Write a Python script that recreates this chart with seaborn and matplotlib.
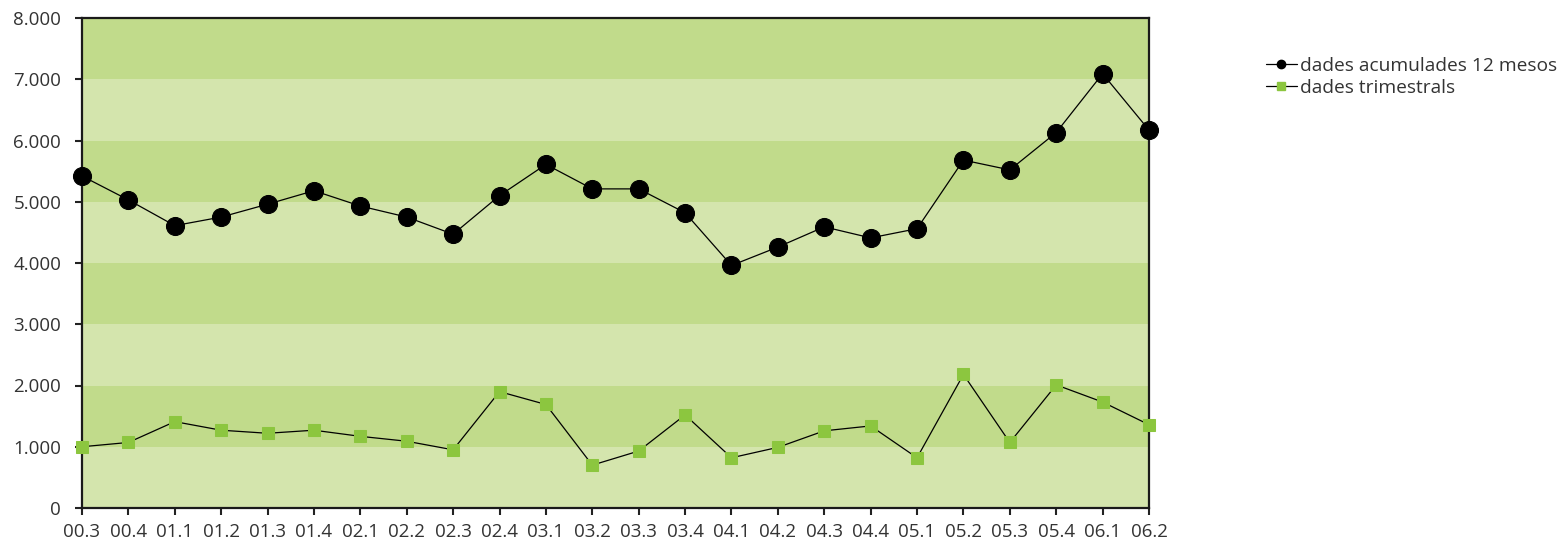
import numpy as np
import matplotlib as mpl
mpl.use('Agg')

import matplotlib.pyplot as plt
from matplotlib.lines import Line2D
from matplotlib.ticker import FuncFormatter
import seaborn as sns
import pandas as pd

# data
quarters = ["00.3", "00.4", "01.1", "01.2", "01.3", "01.4", "02.1", "02.2",
            "02.3", "02.4", "03.1", "03.2", "03.3", "03.4", "04.1", "04.2",
            "04.3", "04.4", "05.1", "05.2", "05.3", "05.4", "06.1", "06.2"]
acumulades = [5420, 5030, 4610, 4750, 4960, 5180, 4930, 4750,
              4470, 5100, 5610, 5210, 5210, 4820, 3960, 4260,
              4590, 4410, 4560, 5680, 5520, 6130, 7090, 6170]
trimestrals = [1000, 1070, 1410, 1270, 1220, 1270, 1170, 1090,
               950, 1900, 1690, 700, 930, 1520, 820, 990,
               1260, 1340, 820, 2180, 1070, 2010, 1730, 1360]
series_names = ["dades acumulades 12 mesos", "dades trimestrals"]

#global params
W, H = 1563, 541
dark_band = "#c1db8b"
light_band = "#d4e5ad"
green = "#8cc63f"
text_col = "#333333"
tick_size = 13.5
legend_size = 13.8


def main():
    sns.set_style("white")
    plt.rcParams['font.family'] = ['Open Sans', 'DejaVu Sans']

    df = pd.DataFrame({"Trimestre": quarters,
                       "acum": acumulades,
                       "trim": trimestrals})
    df["pos"] = np.arange(len(df))

    fig = plt.figure(figsize=(W / 100, H / 100), dpi=100)
    ax = fig.add_axes([82 / W, 1 - 508 / H, (1149 - 82) / W, (508 - 18) / H])

    # alternating horizontal bands, darker on top of each 2000 block
    for lo in range(0, 8000, 1000):
        col = dark_band if (lo // 1000) % 2 == 1 else light_band
        ax.axhspan(lo, lo + 1000, color=col, lw=0, zorder=0)

    sns.lineplot(data=df, x="pos", y="acum", ax=ax, color="black", lw=0.9,
                 marker="o", markersize=13, markerfacecolor="black",
                 markeredgecolor="black", clip_on=False, zorder=5, sort=False)
    sns.lineplot(data=df, x="pos", y="trim", ax=ax, color="black", lw=0.9,
                 marker="s", markersize=8, markerfacecolor=green,
                 markeredgecolor=green, clip_on=False, zorder=5, sort=False)

    ax.set_xlim(0, len(quarters) - 1)
    ax.set_ylim(0, 8000)
    ax.set_xticks(df["pos"])
    ax.set_xticklabels(quarters)
    ax.set_yticks(range(0, 8001, 1000))
    ax.yaxis.set_major_formatter(FuncFormatter(lambda v, p: "{:,.0f}".format(v).replace(",", ".")))
    ax.set_xlabel("")
    ax.set_ylabel("")
    ax.tick_params(axis="both", direction="out", length=5, width=1.5,
                   colors="#222222", labelsize=tick_size, labelcolor=text_col,
                   bottom=True, left=True)
    ax.tick_params(axis="x", pad=6)
    ax.tick_params(axis="y", pad=10)

    for s in ax.spines.values():
        s.set_visible(True)
        s.set_color("#1a1a1a")
        s.set_linewidth(1.6)
        s.set_zorder(4)

    handles = [
        Line2D([], [], color="black", lw=0.9, marker="o", markersize=6,
               markerfacecolor="black", markeredgecolor="black"),
        Line2D([], [], color="black", lw=0.9, marker="s", markersize=6,
               markerfacecolor=green, markeredgecolor=green),
    ]
    fig.legend(handles, series_names, loc="upper left",
               bbox_to_anchor=(1266 / W, 1 - 57 / H), frameon=False,
               fontsize=legend_size, labelcolor=text_col, handlelength=1.6,
               handletextpad=0.2, labelspacing=0.2, borderpad=0,
               borderaxespad=0)

    plt.savefig("out.png", format="png", dpi=100)
    plt.close()


if __name__ == "__main__":
    main()
